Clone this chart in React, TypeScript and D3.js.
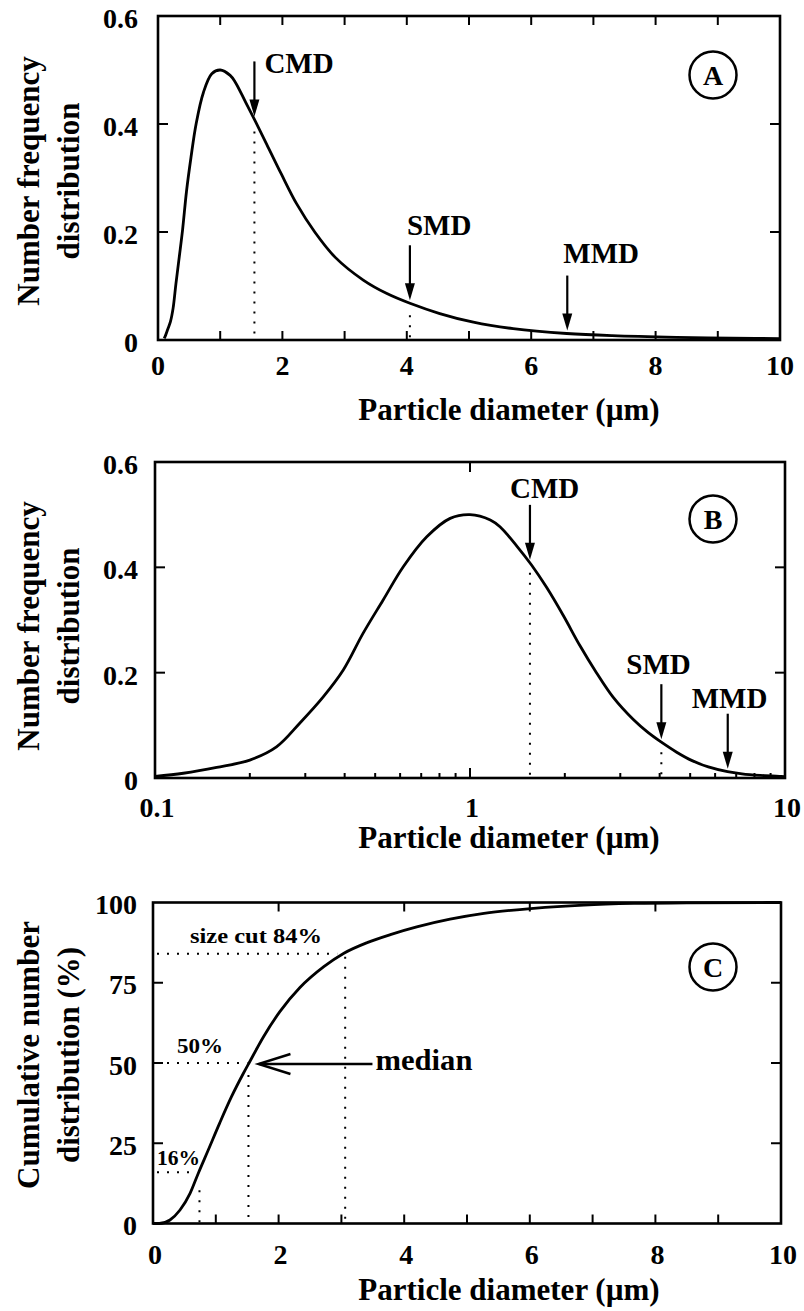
import React from "react";
import * as d3 from "d3";

// ---------- data ----------
const diameterUm = [0.1, 0.123, 0.157, 0.2, 0.243, 0.288, 0.342, 0.396, 0.458, 0.53, 0.614, 0.729, 0.865, 1.0, 1.16, 1.245, 1.41, 1.57, 1.75, 1.98, 2.23, 2.52, 2.85, 3.3, 3.68, 4.05, 4.53, 5.07, 5.71, 6.57, 7.3, 8.34, 9.6, 10];
const numberFrequency = [0.003, 0.009, 0.02, 0.034, 0.059, 0.104, 0.154, 0.205, 0.275, 0.338, 0.401, 0.458, 0.493, 0.5, 0.49, 0.477, 0.44, 0.404, 0.362, 0.308, 0.252, 0.2, 0.153, 0.111, 0.086, 0.068, 0.049, 0.033, 0.021, 0.012, 0.008, 0.005, 0.003, 0.0025];

const cumDiameterUm = [0, 0.1, 0.27, 0.43, 0.59, 0.72, 0.88, 1.06, 1.25, 1.44, 1.54, 1.76, 2.02, 2.34, 2.72, 3.04, 3.41, 3.78, 4.2, 4.73, 5.27, 6.06, 6.86, 7.66, 8.5, 10];
const cumulativePercent = [0, 0, 1.1, 4.2, 9.4, 15.6, 22.9, 31.2, 39.5, 46.8, 50.4, 58.2, 66.0, 73.5, 80, 84.2, 87.5, 90.0, 92.4, 94.8, 96.6, 98.2, 99.2, 99.7, 99.9, 100];

const markerNames = ["CMD", "SMD", "MMD"];
const markerDiameterUm = [1.55, 4.05, 6.58];
const markerDotted = [true, true, false];

const freqTicks = [0, 0.2, 0.4, 0.6];
const freqTickLabels = ["0", "0.2", "0.4", "0.6"];
const linTicks = [0, 2, 4, 6, 8, 10];
const linTickLabels = ["0", "2", "4", "6", "8", "10"];
const logTicks = [0.1, 1, 10];
const logTickLabels = ["0.1", "1", "10"];
const cumTicks = [0, 25, 50, 75, 100];
const cumTickLabels = ["0", "25", "50", "75", "100"];

const percentileLevels = [16, 50, 84];
const percentileDiameterUm = [0.74, 1.52, 3.06];
const percentileLabels = ["16%", "50%", "size cut 84%"];
const medianLabel = "median";

const panelLetters = ["A", "B", "C"];
const xTitle = "Particle diameter (\u00b5m)";
const yTitleFreq = ["Number frequency", "distribution"];
const yTitleCum = ["Cumulative number", "distribution (%)"];

// ---------- helpers ----------
const FONT = "'Liberation Serif', 'Times New Roman', Times, serif";

function interpAt(xs: number[], ys: number[], x: number): number {
  const i = d3.bisectRight(xs, x);
  if (i <= 0) return ys[0];
  if (i >= xs.length) return ys[ys.length - 1];
  const t = (x - xs[i - 1]) / (xs[i] - xs[i - 1]);
  return ys[i - 1] + t * (ys[i] - ys[i - 1]);
}

function Label(props: any) {
  const { children, size = 28, ...rest } = props;
  return (
    <text fontFamily={FONT} fontWeight="bold" fontSize={size} fill="#000" {...rest}>
      {children}
    </text>
  );
}

function Arrow({ x, tip, len = 55 }: { x: number; tip: number; len?: number }) {
  const head = 17;
  const hw = 5;
  return (
    <g>
      <line x1={x} x2={x} y1={tip - len} y2={tip - head + 2} stroke="#000" strokeWidth={2.2} />
      <path d={`M${x - hw},${tip - head} L${x + hw},${tip - head} L${x},${tip} Z`} fill="#000" />
    </g>
  );
}

function Frame({ x0, x1, yb, yt }: any) {
  return <rect x={x0} y={yt} width={x1 - x0} height={yb - yt} fill="none" stroke="#000" strokeWidth={2.6} />;
}

function YTitle({ lines, cy, size = 31 }: { lines: string[]; cy: number; size?: number }) {
  const xs = [39, 79];
  return (
    <g>
      {lines.map((l, i) => (
        <Label key={i} size={size} textAnchor="middle" transform={`translate(${xs[i]},${cy}) rotate(-90)`}>
          {l}
        </Label>
      ))}
    </g>
  );
}

function Letter({ cx, cy, letter }: { cx: number; cy: number; letter: string }) {
  return (
    <g>
      <circle cx={cx} cy={cy} r={23.5} fill="none" stroke="#000" strokeWidth={2.5} />
      <Label x={cx} y={cy + 9.5} size={28} textAnchor="middle">
        {letter}
      </Label>
    </g>
  );
}

const tickStyle = { stroke: "#000", strokeWidth: 2 };
const dotted = { stroke: "#000", strokeWidth: 2, strokeDasharray: "2 8", fill: "none" };

export default function App() {
  // scales
  const xA = d3.scaleLinear().domain([0, 10]).range([158, 780]);
  const yA = d3.scaleLinear().domain([0, 0.6]).range([340, 16]);
  const xB = d3.scaleLog().domain([0.1, 10]).range([155, 785]);
  const yB = d3.scaleLinear().domain([0, 0.6]).range([778, 462]);
  const xC = d3.scaleLinear().domain([0, 10]).range([153, 781]);
  const yC = d3.scaleLinear().domain([0, 100]).range([1223.5, 902.5]);

  const freqPts: [number, number][] = diameterUm.map((d, i) => [d, numberFrequency[i]]);
  const cumPts: [number, number][] = cumDiameterUm.map((d, i) => [d, cumulativePercent[i]]);

  const smooth = d3.curveCatmullRom.alpha(0.5);
  const lineA = d3.line<[number, number]>().x((p) => xA(p[0])).y((p) => yA(p[1])).curve(smooth);
  const lineB = d3.line<[number, number]>().x((p) => xB(p[0])).y((p) => yB(p[1])).curve(smooth);
  const lineC = d3.line<[number, number]>().x((p) => xC(p[0])).y((p) => yC(p[1])).curve(d3.curveMonotoneX);

  const [aL, aR] = xA.range();
  const [aB, aT] = yA.range();
  const [bL, bR] = xB.range();
  const [bB, bT] = yB.range();
  const [cL, cR] = xC.range();
  const [cB, cT] = yC.range();

  const intTicks = xA.ticks(10).filter((v) => v > 0 && v < 10);
  const logMinor = xB.ticks().filter((v) => !logTicks.includes(v));
  const innerFreq = freqTicks.filter((v) => v > 0 && v < 0.6);
  const innerCum = cumTicks.filter((v) => v > 0 && v < 100);
  const innerLin = linTicks.filter((v) => v > 0 && v < 10);

  const labelDxA = [10, -3, -4];
  const labelDyA = [-43, -65, -68];
  const labelDxB = [-20, -35, -36];
  const labelDyB = [-62, -65, -61];

  const yTickX = 138;
  const xTitleX = 509;

  return (
    <svg
      width={804}
      height={1311}
      viewBox="0 0 804 1311"
      style={{ position: "absolute", left: 0, top: 0, background: "#fff" }}
    >
      <rect x={0} y={0} width={804} height={1311} fill="#fff" />

      {/* ================= Panel A ================= */}
      <g>
        {intTicks.map((v) => (
          <g key={v}>
            <line x1={xA(v)} x2={xA(v)} y1={aB} y2={aB - 9} {...tickStyle} />
            <line x1={xA(v)} x2={xA(v)} y1={aT} y2={aT + 9} {...tickStyle} />
          </g>
        ))}
        {innerFreq.map((v) => (
          <g key={v}>
            <line x1={aL} x2={aL + 10} y1={yA(v)} y2={yA(v)} {...tickStyle} />
            <line x1={aR} x2={aR - 10} y1={yA(v)} y2={yA(v)} {...tickStyle} />
          </g>
        ))}
        <Frame x0={aL} x1={aR} yb={aB} yt={aT} />
        <path d={lineA(freqPts) || ""} fill="none" stroke="#000" strokeWidth={2.8} />
        {markerNames.map((m, i) => {
          const d = markerDiameterUm[i];
          const x = xA(d);
          const cy = yA(interpAt(diameterUm, numberFrequency, d));
          const tip = cy - 3;
          return (
            <g key={m}>
              {markerDotted[i] && <line x1={x} x2={x} y1={cy + 12} y2={aB} {...dotted} />}
              <Arrow x={x} tip={tip} />
              <Label x={x + labelDxA[i]} y={tip + labelDyA[i]} size={29}>
                {m}
              </Label>
            </g>
          );
        })}
        <Letter cx={713} cy={75} letter={panelLetters[0]} />
        {freqTicks.map((v, i) => (
          <Label key={v} x={yTickX} y={yA(v) + 12} textAnchor="end">
            {freqTickLabels[i]}
          </Label>
        ))}
        {linTicks.map((v, i) => (
          <Label key={v} x={xA(v)} y={aB + 35} textAnchor="middle">
            {linTickLabels[i]}
          </Label>
        ))}
        <Label x={xTitleX} y={aB + 80} size={31} textAnchor="middle">
          {xTitle}
        </Label>
        <YTitle lines={yTitleFreq} cy={(aB + aT) / 2 + 3} />
      </g>

      {/* ================= Panel B ================= */}
      <g>
        {logMinor.map((v) => (
          <line key={v} x1={xB(v)} x2={xB(v)} y1={bB} y2={bB - 5} {...tickStyle} />
        ))}
        {logTicks
          .filter((v) => v > 0.1 && v < 10)
          .map((v) => (
            <g key={v}>
              <line x1={xB(v)} x2={xB(v)} y1={bB} y2={bB - 10} {...tickStyle} />
              <line x1={xB(v)} x2={xB(v)} y1={bT} y2={bT + 10} {...tickStyle} />
            </g>
          ))}
        {innerFreq.map((v) => (
          <g key={v}>
            <line x1={bL} x2={bL + 10} y1={yB(v)} y2={yB(v)} {...tickStyle} />
            <line x1={bR} x2={bR - 10} y1={yB(v)} y2={yB(v)} {...tickStyle} />
          </g>
        ))}
        <Frame x0={bL} x1={bR} yb={bB} yt={bT} />
        <path d={lineB(freqPts) || ""} fill="none" stroke="#000" strokeWidth={2.8} />
        {markerNames.map((m, i) => {
          const d = markerDiameterUm[i];
          const x = xB(d);
          const cy = yB(interpAt(diameterUm, numberFrequency, d));
          const tip = cy - 3;
          return (
            <g key={m}>
              {markerDotted[i] && <line x1={x} x2={x} y1={cy + 10} y2={bB} {...dotted} />}
              <Arrow x={x} tip={tip} />
              <Label x={x + labelDxB[i]} y={tip + labelDyB[i]} size={29}>
                {m}
              </Label>
            </g>
          );
        })}
        <Letter cx={713} cy={519} letter={panelLetters[1]} />
        {freqTicks.map((v, i) => (
          <Label key={v} x={yTickX} y={yB(v) + 12} textAnchor="end">
            {freqTickLabels[i]}
          </Label>
        ))}
        {logTicks.map((v, i) => (
          <Label key={v} x={xB(v) + 2} y={bB + 39} textAnchor="middle">
            {logTickLabels[i]}
          </Label>
        ))}
        <Label x={xTitleX} y={bB + 70} size={31} textAnchor="middle">
          {xTitle}
        </Label>
        <YTitle lines={yTitleFreq} cy={(bB + bT) / 2 + 6} />
      </g>

      {/* ================= Panel C ================= */}
      <g>
        {intTicks.map((v) => (
          <line key={v} x1={xC(v)} x2={xC(v)} y1={cB} y2={cB - 9} {...tickStyle} />
        ))}
        {innerLin.map((v) => (
          <line key={v} x1={xC(v)} x2={xC(v)} y1={cT} y2={cT + 9} {...tickStyle} />
        ))}
        {innerCum.map((v) => (
          <g key={v}>
            <line x1={cL} x2={cL + 10} y1={yC(v)} y2={yC(v)} {...tickStyle} />
            <line x1={cR} x2={cR - 10} y1={yC(v)} y2={yC(v)} {...tickStyle} />
          </g>
        ))}
        <Frame x0={cL} x1={cR} yb={cB} yt={cT} />
        {percentileLevels.map((lv, i) => {
          const x = xC(percentileDiameterUm[i]);
          const y = yC(lv);
          const hGap = [9, 1, 8][i];
          const vGap = [18, 12, 3][i];
          return (
            <g key={lv}>
              <line x1={cL + 4} x2={x - hGap} y1={y} y2={y} {...dotted} />
              <line x1={x} x2={x} y1={y + vGap} y2={cB} {...dotted} />
            </g>
          );
        })}
        <path d={lineC(cumPts) || ""} fill="none" stroke="#000" strokeWidth={2.8} />
        <Label x={cL + 4} y={yC(percentileLevels[0]) - 7} size={21} textLength={43} lengthAdjust="spacingAndGlyphs">
          {percentileLabels[0]}
        </Label>
        <Label x={cL + 24} y={yC(percentileLevels[1]) - 10} size={21} textLength={46} lengthAdjust="spacingAndGlyphs">
          {percentileLabels[1]}
        </Label>
        <Label x={cL + 37} y={yC(percentileLevels[2]) - 11} size={21} textLength={132} lengthAdjust="spacingAndGlyphs">
          {percentileLabels[2]}
        </Label>
        {(() => {
          const tipX = xC(percentileDiameterUm[1]) + 10;
          const y = yC(50) + 1;
          const tail = tipX + 114;
          return (
            <g>
              <line x1={tipX + 1} x2={tail} y1={y} y2={y} stroke="#000" strokeWidth={2.4} />
              <path
                d={`M${tipX + 32},${y - 10} L${tipX},${y} L${tipX + 32},${y + 10}`}
                fill="none"
                stroke="#000"
                strokeWidth={2.4}
              />
              <Label x={tail + 3} y={y + 6} size={29} textLength={97} lengthAdjust="spacingAndGlyphs">
                {medianLabel}
              </Label>
            </g>
          );
        })()}
        <Letter cx={713} cy={967} letter={panelLetters[2]} />
        {cumTicks.map((v, i) => (
          <Label key={v} x={yTickX - 1} y={yC(v) + 11.5} textAnchor="end">
            {cumTickLabels[i]}
          </Label>
        ))}
        {linTicks.map((v, i) => (
          <Label key={v} x={xC(v) + 2} y={cB + 40.5} textAnchor="middle">
            {linTickLabels[i]}
          </Label>
        ))}
        <Label x={xTitleX} y={cB + 76.5} size={31} textAnchor="middle">
          {xTitle}
        </Label>
        <YTitle lines={yTitleCum} cy={(cB + cT) / 2 - 8} />
      </g>
    </svg>
  );
}
